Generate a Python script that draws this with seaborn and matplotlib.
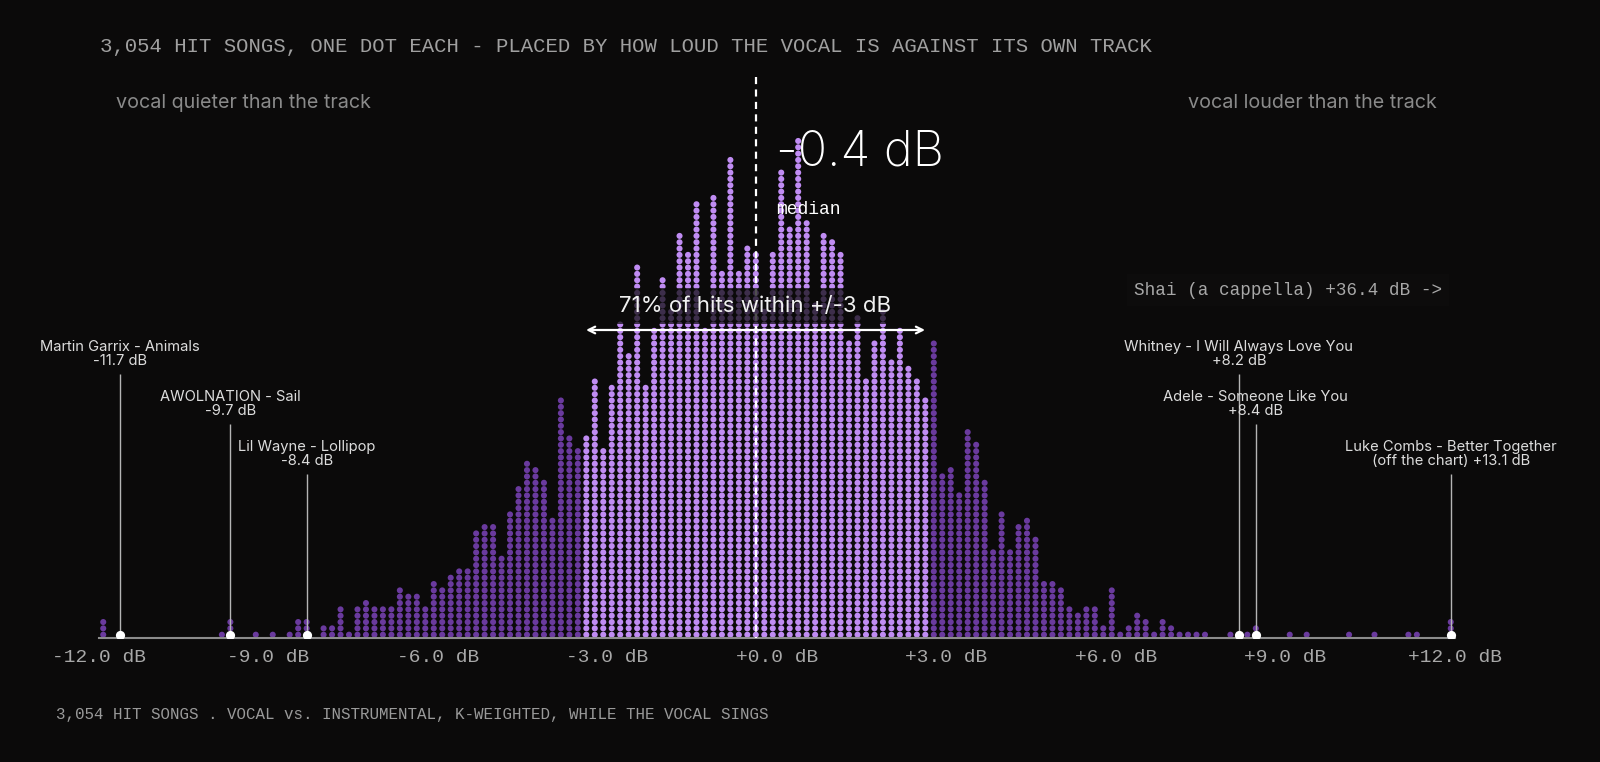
import numpy as np
import pandas as pd
import matplotlib
matplotlib.use("Agg")
import matplotlib.pyplot as plt
import matplotlib.transforms as mtransforms
import seaborn as sns

# ---------------- data ----------------
BIN_WIDTH = 0.15
X_MIN, X_MAX = -12.0, 12.0
# number of songs per 0.15 dB bin, from -12 dB to +12 dB (160 bins)
bin_counts = [
    3, 0, 1, 0, 0, 0, 0, 0, 0, 0,
    0, 0, 0, 0, 1, 3, 0, 0, 1, 0,
    1, 0, 1, 3, 3, 0, 2, 2, 5, 1,
    5, 6, 5, 5, 5, 8, 7, 7, 5, 9,
    8, 10, 11, 11, 17, 18, 18, 13, 20, 24,
    28, 27, 25, 19, 38, 32, 30, 32, 41, 30,
    40, 50, 45, 59, 40, 49, 57, 52, 64, 61,
    69, 49, 70, 58, 76, 58, 62, 61, 52, 61,
    74, 65, 79, 66, 53, 64, 63, 61, 47, 51,
    41, 47, 52, 44, 49, 43, 41, 38, 47, 26,
    27, 23, 33, 31, 25, 14, 20, 14, 18, 19,
    16, 9, 9, 8, 5, 4, 5, 5, 2, 8,
    1, 2, 4, 3, 1, 3, 2, 1, 1, 1,
    1, 0, 0, 1, 1, 1, 2, 0, 0, 0,
    1, 0, 1, 0, 0, 0, 0, 1, 0, 0,
    1, 0, 0, 0, 1, 1, 0, 0, 0, 3,
]
MEDIAN_DB = -0.38
BAND_DB = 3.0

song_names = ["Martin Garrix - Animals", "AWOLNATION - Sail", "Lil Wayne - Lollipop",
              "Whitney - I Will Always Love You", "Adele - Someone Like You",
              "Luke Combs - Better Together"]
song_values = [-11.7, -9.7, -8.4, 8.2, 8.4, 13.1]
song_value_labels = ["-11.7 dB", "-9.7 dB", "-8.4 dB", "+8.2 dB", "+8.4 dB",
                     "(off the chart) +13.1 dB"]

tick_values = [-12, -9, -6, -3, 0, 3, 6, 9, 12]
tick_labels = ["-12.0 dB", "-9.0 dB", "-6.0 dB", "-3.0 dB", "+0.0 dB",
               "+3.0 dB", "+6.0 dB", "+9.0 dB", "+12.0 dB"]

title_text = "3,054 HIT SONGS, ONE DOT EACH - PLACED BY HOW LOUD THE VOCAL IS AGAINST ITS OWN TRACK"
footer_text = "3,054 HIT SONGS . VOCAL vs. INSTRUMENTAL, K-WEIGHTED, WHILE THE VOCAL SINGS"
outlier_text = "Shai (a cappella) +36.4 dB ->"

# ---------------- style ----------------
BG = "#0b0a0a"
LIGHT = "#c08cf3"
DARK = "#6a3a9e"
MONO = "Liberation Mono"
SANS = "Inter"

sns.set_style("dark")
plt.rcParams["font.family"] = [SANS, "DejaVu Sans"]

W, H = 1600, 762
fig = plt.figure(figsize=(W / 100, H / 100), dpi=100, facecolor=BG)

# layout: pixel geometry of the dot grid
X0_PX = 777.0        # x pixel of 0 dB
PX_PER_DB = 56.5
AXIS_PX = 638.0      # y pixel of the axis line
ROW0_PX = 634.7      # y pixel of the first dot row
ROW_PX = 6.33        # vertical spacing between dot rows

ax = fig.add_axes([0, (H - AXIS_PX) / H, 1, AXIS_PX / H])
ax.set_facecolor(BG)


def row_at(py):
    return (ROW0_PX - py) / ROW_PX


# ---------------- build dots ----------------
n_bins = len(bin_counts)
centers = X_MIN + BIN_WIDTH * (np.arange(n_bins) + 0.5)
lo_edges = X_MIN + BIN_WIDTH * np.arange(n_bins)
hi_edges = lo_edges + BIN_WIDTH
rows_x, rows_y, rows_band = [], [], []
for c, lo, hi, n in zip(centers, lo_edges, hi_edges, bin_counts):
    inside = (lo <= MEDIAN_DB + BAND_DB) and (hi >= MEDIAN_DB - BAND_DB)
    for k in range(n):
        rows_x.append(c)
        rows_y.append(k)
        rows_band.append("inside" if inside else "outside")
df = pd.DataFrame({"db": rows_x, "row": rows_y, "band": rows_band})

sns.scatterplot(data=df, x="db", y="row", hue="band",
                palette={"inside": LIGHT, "outside": DARK},
                s=19, linewidth=0, legend=False, ax=ax, zorder=2)

# highlighted songs (bottom dot of their bin)
song_bins = [int(np.floor((min(max(v, X_MIN), X_MAX - 1e-6) - X_MIN) / BIN_WIDTH + 1e-9))
             for v in song_values]
song_x = [centers[b] for b in song_bins]
hl = pd.DataFrame({"db": song_x, "row": [0] * len(song_x)})
sns.scatterplot(data=hl, x="db", y="row", color="white", s=44, linewidth=0,
                legend=False, ax=ax, zorder=5)

# ---------------- axes ----------------
ax.set_xlim((0 - X0_PX) / PX_PER_DB, (W - X0_PX) / PX_PER_DB)
ax.set_ylim(row_at(AXIS_PX), row_at(0))
for side in ["top", "left", "right"]:
    ax.spines[side].set_visible(False)
ax.spines["bottom"].set_visible(True)
ax.spines["bottom"].set_color("#8c8c8c")
ax.spines["bottom"].set_linewidth(1.5)
ax.spines["bottom"].set_bounds(X_MIN, X_MAX)
ax.set_xticks(tick_values, labels=tick_labels)
ax.set_yticks([])
ax.tick_params(axis="x", colors="#8c8c8c", length=5, width=1.2, pad=3,
               labelsize=14, labelcolor="#a8a8a8")
for lbl in ax.get_xticklabels():
    lbl.set_fontfamily(MONO)
ax.set_xlabel("")
ax.set_ylabel("")
ax.grid(False)

# median line (drawn top-down so the dash pattern starts at the top)
ax.plot([MEDIAN_DB, MEDIAN_DB], [row_at(77), row_at(AXIS_PX)], color="white",
        linestyle=(0, (3.2, 2.4)), linewidth=1.6, zorder=6)

# band arrow + label
arrow_row = row_at(330)
ax.annotate("", xy=(MEDIAN_DB - BAND_DB, arrow_row), xytext=(MEDIAN_DB + BAND_DB, arrow_row),
            arrowprops=dict(arrowstyle="<->", color="white", lw=1.6,
                            shrinkA=0, shrinkB=0, mutation_scale=12), zorder=8)
ax.text(MEDIAN_DB, row_at(306), "71% of hits within +/-3 dB", ha="center", va="center",
        fontsize=16, color="#f0f0f0", family=[SANS, "DejaVu Sans"], zorder=9,
        bbox=dict(boxstyle="square,pad=0.35", facecolor=BG, edgecolor="none", alpha=0.72))

# median labels
fig_y = lambda py: 1 - py / H
blend = mtransforms.blended_transform_factory(ax.transData, fig.transFigure)
ax.text(MEDIAN_DB + 0.36, fig_y(153), "-0.4 dB", transform=blend, ha="left", va="center",
        fontsize=35, color="white", fontweight="light", family=[SANS, "DejaVu Sans"], zorder=9)
ax.text(MEDIAN_DB + 0.36, fig_y(209), "median", transform=blend, ha="left", va="center",
        fontsize=13, color="white", family=MONO, zorder=9)

# annotated songs
label_tops = [347, 397, 447, 347, 397, 447]
for name, vlab, x, top in zip(song_names, song_value_labels, song_x, label_tops):
    ax.vlines(x, 0, row_at(top + 27), colors="#b5b5b5", linewidth=1.0, zorder=4)
    ax.text(x, fig_y(top + 7), name + "\n" + vlab, transform=blend, ha="center", va="center",
            fontsize=10.6, color="#dcdcdc", linespacing=1.0, family=[SANS, "DejaVu Sans"], zorder=9)

# side labels
fig.text(116 / W, fig_y(103), "vocal quieter than the track", ha="left", va="center",
         fontsize=14.2, color="#8a8a8a", family=[SANS, "DejaVu Sans"])
fig.text(1437 / W, fig_y(103), "vocal louder than the track", ha="right", va="center",
         fontsize=14.2, color="#8a8a8a", family=[SANS, "DejaVu Sans"])
fig.text(1134 / W, fig_y(290), outlier_text, ha="left", va="center",
         fontsize=12.7, color="#a8a8a8", family=MONO,
         bbox=dict(boxstyle="square,pad=0.4", facecolor="#0d0c0c", edgecolor="none"))

# title and footer
fig.text(100 / W, fig_y(46), title_text, ha="left", va="center",
         fontsize=14.9, color="#a0a0a0", family=MONO)
fig.text(56 / W, fig_y(714), footer_text, ha="left", va="center",
         fontsize=11.4, color="#9a9a9a", family=MONO)

fig.savefig("out.png", dpi=100, facecolor=BG)
